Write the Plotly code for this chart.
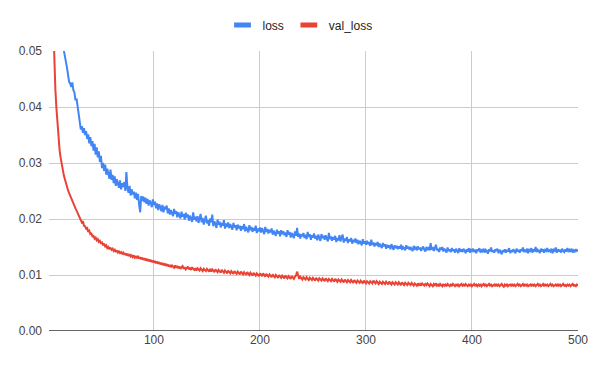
import plotly.graph_objects as go

epochs = list(range(1, 501))

loss = [
0.1420, 0.1050, 0.0900, 0.0800, 0.0730, 0.0680, 0.0640, 0.0605, 0.0580, 0.0560,
0.0545, 0.0532, 0.0522, 0.0512, 0.0505, 0.0497, 0.0484, 0.0470, 0.0457, 0.0445,
0.0442, 0.0436, 0.0444, 0.0430, 0.0426, 0.0412, 0.0415, 0.0399, 0.0390, 0.0378,
0.0360, 0.0366, 0.0354, 0.0362, 0.0350, 0.0357, 0.0343, 0.0351, 0.0335, 0.0346,
0.0330, 0.0339, 0.0322, 0.0334, 0.0315, 0.0328, 0.0310, 0.0321, 0.0302, 0.0313,
0.0291, 0.0300, 0.0286, 0.0297, 0.0279, 0.0290, 0.0283, 0.0272, 0.0288, 0.0270,
0.0279, 0.0264, 0.0276, 0.0259, 0.0271, 0.0262, 0.0256, 0.0269, 0.0253, 0.0264,
0.0257, 0.0266, 0.0250, 0.0284, 0.0255, 0.0247, 0.0259, 0.0242, 0.0253, 0.0244,
0.0249, 0.0237, 0.0247, 0.0234, 0.0245, 0.0226, 0.0212, 0.0241, 0.0232, 0.0240,
0.0230, 0.0238, 0.0227, 0.0236, 0.0224, 0.0233, 0.0229, 0.0221, 0.0235, 0.0225,
0.0231, 0.0219, 0.0228, 0.0216, 0.0226, 0.0221, 0.0214, 0.0225, 0.0212, 0.0222,
0.0217, 0.0224, 0.0210, 0.0219, 0.0208, 0.0216, 0.0211, 0.0205, 0.0218, 0.0209,
0.0214, 0.0203, 0.0212, 0.0206, 0.0201, 0.0213, 0.0204, 0.0209, 0.0199, 0.0211,
0.0203, 0.0208, 0.0197, 0.0206, 0.0200, 0.0195, 0.0212, 0.0199, 0.0204, 0.0196,
0.0205, 0.0193, 0.0201, 0.0209, 0.0194, 0.0202, 0.0190, 0.0199, 0.0206, 0.0192,
0.0198, 0.0188, 0.0201, 0.0194, 0.0208, 0.0187, 0.0196, 0.0191, 0.0184, 0.0199,
0.0190, 0.0195, 0.0185, 0.0193, 0.0188, 0.0198, 0.0183, 0.0192, 0.0186, 0.0194,
0.0184, 0.0191, 0.0187, 0.0181, 0.0193, 0.0185, 0.0189, 0.0180, 0.0190, 0.0183,
0.0188, 0.0179, 0.0187, 0.0182, 0.0191, 0.0178, 0.0186, 0.0181, 0.0176, 0.0189,
0.0180, 0.0186, 0.0177, 0.0184, 0.0179, 0.0188, 0.0175, 0.0183, 0.0178, 0.0185,
0.0176, 0.0184, 0.0179, 0.0173, 0.0186, 0.0177, 0.0182, 0.0174, 0.0181, 0.0176,
0.0183, 0.0172, 0.0179, 0.0175, 0.0170, 0.0181, 0.0174, 0.0178, 0.0169, 0.0180,
0.0173, 0.0178, 0.0171, 0.0176, 0.0168, 0.0180, 0.0172, 0.0177, 0.0167, 0.0175,
0.0171, 0.0166, 0.0178, 0.0170, 0.0184, 0.0168, 0.0174, 0.0165, 0.0173, 0.0169,
0.0175, 0.0166, 0.0172, 0.0164, 0.0177, 0.0168, 0.0173, 0.0163, 0.0171, 0.0167,
0.0174, 0.0165, 0.0170, 0.0162, 0.0172, 0.0167, 0.0161, 0.0173, 0.0166, 0.0170,
0.0163, 0.0171, 0.0165, 0.0160, 0.0175, 0.0164, 0.0169, 0.0161, 0.0168, 0.0163,
0.0170, 0.0159, 0.0166, 0.0162, 0.0171, 0.0160, 0.0167, 0.0172, 0.0158, 0.0165,
0.0161, 0.0168, 0.0157, 0.0164, 0.0160, 0.0166, 0.0156, 0.0163, 0.0159, 0.0165,
0.0157, 0.0163, 0.0155, 0.0161, 0.0158, 0.0153, 0.0164, 0.0156, 0.0160, 0.0154,
0.0161, 0.0155, 0.0159, 0.0152, 0.0163, 0.0154, 0.0158, 0.0151, 0.0157, 0.0153,
0.0159, 0.0150, 0.0156, 0.0152, 0.0148, 0.0157, 0.0151, 0.0155, 0.0147, 0.0154,
0.0149, 0.0153, 0.0146, 0.0155, 0.0150, 0.0145, 0.0153, 0.0148, 0.0152, 0.0146,
0.0151, 0.0147, 0.0154, 0.0145, 0.0150, 0.0148, 0.0144, 0.0153, 0.0147, 0.0151,
0.0145, 0.0150, 0.0146, 0.0143, 0.0152, 0.0147, 0.0149, 0.0144, 0.0151, 0.0146,
0.0149, 0.0143, 0.0148, 0.0151, 0.0145, 0.0142, 0.0150, 0.0146, 0.0148, 0.0144,
0.0157, 0.0145, 0.0150, 0.0143, 0.0148, 0.0154, 0.0144, 0.0147, 0.0141, 0.0149,
0.0145, 0.0150, 0.0142, 0.0147, 0.0144, 0.0140, 0.0149, 0.0143, 0.0146, 0.0141,
0.0148, 0.0143, 0.0146, 0.0140, 0.0147, 0.0144, 0.0139, 0.0148, 0.0142, 0.0146,
0.0141, 0.0147, 0.0143, 0.0139, 0.0146, 0.0142, 0.0148, 0.0140, 0.0145, 0.0143,
0.0147, 0.0141, 0.0145, 0.0139, 0.0146, 0.0143, 0.0148, 0.0140, 0.0144, 0.0142,
0.0147, 0.0140, 0.0145, 0.0143, 0.0138, 0.0146, 0.0142, 0.0149, 0.0141, 0.0144,
0.0140, 0.0146, 0.0143, 0.0147, 0.0139, 0.0145, 0.0142, 0.0137, 0.0144, 0.0141,
0.0146, 0.0140, 0.0145, 0.0142, 0.0148, 0.0139, 0.0144, 0.0141, 0.0146, 0.0143,
0.0139, 0.0147, 0.0142, 0.0145, 0.0140, 0.0146, 0.0143, 0.0149, 0.0141, 0.0144,
0.0142, 0.0147, 0.0139, 0.0145, 0.0143, 0.0148, 0.0140, 0.0146, 0.0142, 0.0150,
0.0141, 0.0145, 0.0143, 0.0139, 0.0147, 0.0142, 0.0146, 0.0140, 0.0145, 0.0143,
0.0148, 0.0141, 0.0144, 0.0142, 0.0147, 0.0139, 0.0145, 0.0143, 0.0149, 0.0140,
0.0146, 0.0142, 0.0145, 0.0140, 0.0147, 0.0143, 0.0141, 0.0146, 0.0142, 0.0148,
0.0141, 0.0145, 0.0143, 0.0147, 0.0140, 0.0144, 0.0142, 0.0146, 0.0143, 0.0145,
]

val_loss = [
0.2000, 0.1200, 0.0850, 0.0650, 0.0550, 0.0480, 0.0432, 0.0398, 0.0366, 0.0341,
0.0323, 0.0309, 0.0297, 0.0287, 0.0278, 0.0271, 0.0263, 0.0257, 0.0251, 0.0246,
0.0241, 0.0237, 0.0232, 0.0228, 0.0224, 0.0219, 0.0215, 0.0211, 0.0206, 0.0202,
0.0199, 0.0194, 0.0196, 0.0188, 0.0187, 0.0183, 0.0184, 0.0177, 0.0179, 0.0173,
0.0174, 0.0169, 0.0170, 0.0165, 0.0167, 0.0162, 0.0164, 0.0159, 0.0161, 0.0157,
0.0158, 0.0153, 0.0156, 0.0151, 0.0153, 0.0148, 0.0150, 0.0146, 0.0149, 0.0145,
0.0147, 0.0143, 0.0145, 0.0141, 0.0144, 0.0140, 0.0142, 0.0139, 0.0141, 0.0138,
0.0140, 0.0136, 0.0139, 0.0135, 0.0138, 0.0134, 0.0137, 0.0133, 0.0135, 0.0132,
0.0135, 0.0131, 0.0133, 0.0130, 0.0134, 0.0129, 0.0132, 0.0128, 0.0131, 0.0127,
0.0130, 0.0126, 0.0129, 0.0125, 0.0128, 0.0124, 0.0127, 0.0123, 0.0126, 0.0122,
0.0125, 0.0121, 0.0124, 0.0120, 0.0123, 0.0119, 0.0122, 0.0118, 0.0121, 0.0117,
0.0120, 0.0116, 0.0119, 0.0115, 0.0118, 0.0114, 0.0117, 0.0115, 0.0113, 0.0117,
0.0113, 0.0116, 0.0112, 0.0115, 0.0111, 0.0114, 0.0116, 0.0111, 0.0114, 0.0110,
0.0113, 0.0115, 0.0110, 0.0113, 0.0109, 0.0114, 0.0111, 0.0109, 0.0112, 0.0108,
0.0112, 0.0110, 0.0108, 0.0112, 0.0109, 0.0107, 0.0111, 0.0108, 0.0107, 0.0111,
0.0108, 0.0106, 0.0111, 0.0106, 0.0110, 0.0107, 0.0105, 0.0110, 0.0107, 0.0105,
0.0109, 0.0106, 0.0104, 0.0109, 0.0106, 0.0104, 0.0108, 0.0105, 0.0103, 0.0108,
0.0105, 0.0103, 0.0107, 0.0104, 0.0102, 0.0107, 0.0104, 0.0102, 0.0106, 0.0103,
0.0101, 0.0106, 0.0103, 0.0101, 0.0105, 0.0102, 0.0100, 0.0105, 0.0102, 0.0100,
0.0104, 0.0101, 0.0099, 0.0104, 0.0101, 0.0099, 0.0103, 0.0100, 0.0098, 0.0103,
0.0100, 0.0098, 0.0103, 0.0099, 0.0097, 0.0102, 0.0099, 0.0097, 0.0101, 0.0098,
0.0096, 0.0101, 0.0098, 0.0096, 0.0100, 0.0097, 0.0095, 0.0100, 0.0097, 0.0095,
0.0099, 0.0096, 0.0094, 0.0099, 0.0096, 0.0094, 0.0098, 0.0095, 0.0093, 0.0098,
0.0095, 0.0093, 0.0097, 0.0099, 0.0106, 0.0096, 0.0093, 0.0097, 0.0094, 0.0092,
0.0096, 0.0094, 0.0092, 0.0096, 0.0093, 0.0091, 0.0095, 0.0093, 0.0091, 0.0095,
0.0092, 0.0090, 0.0095, 0.0092, 0.0090, 0.0094, 0.0092, 0.0090, 0.0094, 0.0091,
0.0089, 0.0094, 0.0091, 0.0089, 0.0093, 0.0091, 0.0089, 0.0093, 0.0090, 0.0088,
0.0093, 0.0090, 0.0088, 0.0092, 0.0090, 0.0088, 0.0092, 0.0089, 0.0087, 0.0092,
0.0089, 0.0087, 0.0091, 0.0089, 0.0087, 0.0091, 0.0088, 0.0086, 0.0091, 0.0088,
0.0086, 0.0090, 0.0088, 0.0086, 0.0090, 0.0087, 0.0085, 0.0090, 0.0087, 0.0085,
0.0089, 0.0087, 0.0085, 0.0089, 0.0087, 0.0085, 0.0090, 0.0087, 0.0085, 0.0089,
0.0086, 0.0084, 0.0088, 0.0086, 0.0084, 0.0088, 0.0086, 0.0084, 0.0088, 0.0085,
0.0083, 0.0088, 0.0085, 0.0083, 0.0087, 0.0085, 0.0083, 0.0087, 0.0085, 0.0083,
0.0087, 0.0084, 0.0082, 0.0087, 0.0084, 0.0082, 0.0086, 0.0084, 0.0082, 0.0086,
0.0084, 0.0082, 0.0086, 0.0083, 0.0081, 0.0085, 0.0083, 0.0081, 0.0085, 0.0082,
0.0084, 0.0081, 0.0085, 0.0083, 0.0081, 0.0084, 0.0082, 0.0085, 0.0082, 0.0080,
0.0084, 0.0082, 0.0080, 0.0084, 0.0082, 0.0085, 0.0081, 0.0083, 0.0080, 0.0084,
0.0082, 0.0080, 0.0084, 0.0081, 0.0083, 0.0080, 0.0084, 0.0082, 0.0080, 0.0083,
0.0081, 0.0084, 0.0082, 0.0080, 0.0083, 0.0081, 0.0084, 0.0080, 0.0082, 0.0084,
0.0081, 0.0083, 0.0080, 0.0084, 0.0082, 0.0080, 0.0083, 0.0081, 0.0084, 0.0080,
0.0082, 0.0084, 0.0081, 0.0083, 0.0080, 0.0083, 0.0081, 0.0084, 0.0080, 0.0082,
0.0084, 0.0081, 0.0083, 0.0080, 0.0082, 0.0084, 0.0081, 0.0083, 0.0080, 0.0082,
0.0083, 0.0080, 0.0084, 0.0081, 0.0083, 0.0080, 0.0082, 0.0084, 0.0081, 0.0079,
0.0083, 0.0081, 0.0084, 0.0080, 0.0082, 0.0083, 0.0080, 0.0084, 0.0081, 0.0083,
0.0080, 0.0082, 0.0084, 0.0081, 0.0083, 0.0080, 0.0082, 0.0084, 0.0080, 0.0083,
0.0081, 0.0084, 0.0080, 0.0082, 0.0083, 0.0080, 0.0084, 0.0081, 0.0083, 0.0080,
0.0082, 0.0084, 0.0081, 0.0083, 0.0080, 0.0082, 0.0084, 0.0080, 0.0083, 0.0081,
0.0083, 0.0080, 0.0082, 0.0084, 0.0081, 0.0083, 0.0080, 0.0082, 0.0083, 0.0080,
0.0084, 0.0081, 0.0083, 0.0080, 0.0082, 0.0084, 0.0081, 0.0082, 0.0080, 0.0083,
0.0081, 0.0083, 0.0080, 0.0082, 0.0084, 0.0081, 0.0082, 0.0080, 0.0083, 0.0081,
]

series_names = ["loss", "val_loss"]
series_colors = ["#4285F4", "#EA4335"]
x_ticks = [100, 200, 300, 400, 500]
y_ticks = [0.00, 0.01, 0.02, 0.03, 0.04, 0.05]

FONT = "Liberation Sans, Arial, sans-serif"

fig = go.Figure()
for name, ys, col in zip(series_names, [loss, val_loss], series_colors):
    fig.add_trace(go.Scatter(x=epochs, y=ys, name=name, mode="lines",
                             line=dict(color=col, width=2), showlegend=False))
# legend entries drawn as short thick swatches like the original
for name, col in zip(series_names, series_colors):
    fig.add_trace(go.Scatter(x=[None], y=[None], name=name, mode="markers",
                             marker=dict(symbol="line-ew", size=12,
                                         line=dict(color=col, width=5)),
                             showlegend=True))

# the page body adds an 8px offset; margins compensate so the plot area sits
# at the same place as in the original picture
fig.update_layout(
    width=600, height=371,
    margin=dict(l=41, r=30, t=43, b=48, autoexpand=False),
    paper_bgcolor="white", plot_bgcolor="white",
    font=dict(family=FONT, size=12, color="#444444"),
    showlegend=True,
    legend=dict(orientation="h", xref="container", x=292 / 600, xanchor="center",
                yref="container", y=1 - 17 / 371, yanchor="middle",
                font=dict(family=FONT, size=12, color="#222222"),
                itemwidth=30, bgcolor="rgba(0,0,0,0)"),
    xaxis=dict(range=[1, 500], tickvals=x_ticks, showgrid=True, gridcolor="#cccccc",
               gridwidth=1, zeroline=False, showline=False, ticks="",
               tickfont=dict(family=FONT, size=12, color="#444444")),
    yaxis=dict(range=[0, 0.05], tickvals=y_ticks, tickformat=".2f", showgrid=True,
               gridcolor="#cccccc", gridwidth=1, zeroline=False, showline=False,
               ticks="", ticklabelstandoff=6,
               tickfont=dict(family=FONT, size=12, color="#444444")),
)

fig.add_shape(type="line", xref="paper", yref="y", x0=0, x1=1, y0=0, y1=0,
              line=dict(color="#333333", width=1.5), layer="above")

fig.write_html("out.html")
